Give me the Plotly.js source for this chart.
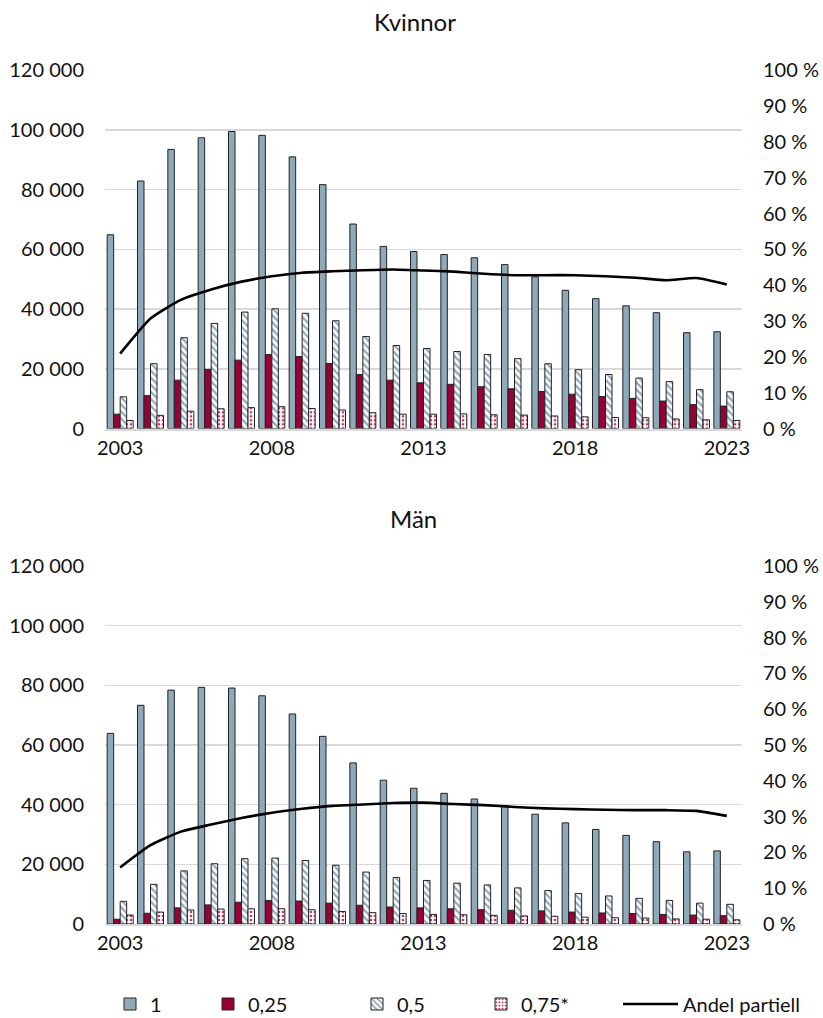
<!DOCTYPE html>
<html>
<head>
<meta charset="utf-8">
<script src="https://cdn.plot.ly/plotly-3.0.1.min.js"></script>
<style>html,body{margin:0;padding:0;background:#fff;}#chart{width:823px;height:1018px;}</style>
</head>
<body>
<div id="chart"></div>
<script>
const years = [2003,2004,2005,2006,2007,2008,2009,2010,2011,2012,2013,2014,2015,2016,2017,2018,2019,2020,2021,2022,2023];

const seriesNames = ["1", "0,25", "0,5", "0,75*", "Andel partiell"];

// Kvinnor
const kv_1    = [64900,82900,93500,97400,99500,98200,91000,81700,68500,61000,59300,58300,57200,54900,50800,46300,43500,41100,38800,32100,32400];
const kv_025  = [4800,11000,16200,19800,22900,24800,24100,21800,18100,16200,15300,14800,14000,13300,12400,11500,10700,10100,9200,8000,7500];
const kv_05   = [10600,21700,30400,35200,39000,40100,38600,36100,30800,27800,26800,25800,24800,23400,21700,19700,18100,16900,15700,13000,12300];
const kv_075  = [2700,4400,5800,6600,7000,7300,6700,6200,5300,4800,4800,4900,4600,4500,4200,3900,3700,3600,3200,2900,2700];
const kv_andel = [20.9,30.7,35.9,38.8,41.0,42.5,43.5,43.9,44.2,44.4,44.1,43.8,43.2,42.8,42.8,42.8,42.5,42.1,41.4,42.0,40.2];

// Män
const man_1   = [63900,73300,78400,79300,79100,76500,70400,62900,54000,48200,45500,43800,41900,39500,36800,33900,31700,29700,27600,24200,24500];
const man_025 = [1600,3600,5400,6400,7300,7900,7700,7000,6300,5700,5400,5100,4800,4600,4400,4000,3700,3500,3200,3000,2800];
const man_05  = [7600,13300,17800,20200,21900,22100,21300,19700,17400,15600,14600,13700,13100,12100,11200,10200,9400,8600,7900,7000,6600];
const man_075 = [3000,4000,4700,5000,5100,5100,4800,4200,3800,3500,3200,3100,2900,2700,2600,2300,2100,2000,1700,1600,1400];
const man_andel = [15.8,22.0,25.8,27.8,29.6,31.1,32.2,33.0,33.4,33.8,33.9,33.5,33.2,32.7,32.3,32.1,31.9,31.8,31.8,31.6,30.2];

const titles = ["Kvinnor", "Män"];

const BLUE = "#8EA9BA";
const RED = "#990033";
const PINK = "#C23A62";
const OUT = {color: "#222222", width: 1};
const legendIds = ["legend", "legend2", "legend3", "legend4", "legend5"];

function barTraces(vals, xa, ya, show) {
  const styles = [
    {color: BLUE, line: OUT},
    {color: RED, line: OUT},
    {color: "#ffffff", line: OUT, pattern: {shape: "\\", fgcolor: BLUE, bgcolor: "#ffffff", size: 5, solidity: 0.45}},
    {color: "#ffffff", line: OUT, pattern: {shape: ".", fgcolor: PINK, bgcolor: "#ffffff", size: 4, solidity: 0.35}}
  ];
  return vals.map((v, i) => ({
    type: "bar", x: years, y: v, name: seriesNames[i], xaxis: xa, yaxis: ya,
    marker: styles[i], showlegend: show, legend: legendIds[i], legendgroup: seriesNames[i], hoverinfo: "skip"
  }));
}

const lineStyle = {color: "#000000", width: 2.6, shape: "spline", smoothing: 0.5};

const traces = [
  ...barTraces([kv_1, kv_025, kv_05, kv_075], "x", "y", true),
  {type: "scatter", mode: "lines", x: years, y: kv_andel, name: seriesNames[4], xaxis: "x", yaxis: "y2",
   line: lineStyle, showlegend: true, legend: legendIds[4], legendgroup: "andel", hoverinfo: "skip"},
  ...barTraces([man_1, man_025, man_05, man_075], "x2", "y3", false),
  {type: "scatter", mode: "lines", x: years, y: man_andel, name: seriesNames[4], xaxis: "x2", yaxis: "y4",
   line: lineStyle, showlegend: false, legendgroup: "andel", hoverinfo: "skip"}
];

const H = 1018, W = 823;
const fy = px => 1 - px / H;
const FAM = "Lato, 'Open Sans', sans-serif";
const tickFont = {family: FAM, size: 20, color: "#111111"};

const xax = anchor => ({
  anchor: anchor, range: [2002.5, 2023.5], tickmode: "linear", tick0: 2003, dtick: 5,
  showgrid: false, zeroline: false, showline: true, linecolor: "#D9D9D9", linewidth: 2,
  ticks: "", tickfont: tickFont, fixedrange: true, automargin: false
});
const yLeft = (domain, anchor) => ({
  domain: domain, anchor: anchor, range: [0, 120000], dtick: 20000, tick0: 0, tickformat: ",d",
  showgrid: true, gridcolor: "#D9D9D9", gridwidth: 1.5, zeroline: false, showline: false,
  ticks: "", tickfont: tickFont, ticklabelstandoff: 20, automargin: false
});
const yRight = (over, anchor) => ({
  overlaying: over, anchor: anchor, side: "right", range: [0, 100], dtick: 10, tick0: 0,
  ticksuffix: " %", showgrid: false, zeroline: false, showline: false,
  ticks: "", tickfont: tickFont, ticklabelstandoff: 20, automargin: false
});

const leg = (xpx, iw) => ({
  orientation: "h", xref: "container", yref: "container", x: xpx / W, xanchor: "left",
  y: fy(1004), yanchor: "middle", font: tickFont, itemwidth: iw, bgcolor: "rgba(0,0,0,0)"
});

const layout = {
  width: W, height: H,
  margin: {l: 105, r: 81, t: 0, b: 0, autoexpand: false},
  separators: ", ",
  paper_bgcolor: "#ffffff", plot_bgcolor: "#ffffff",
  barmode: "group", bargap: 0.143, bargroupgap: 0,
  font: tickFont,
  xaxis: xax("y"),
  yaxis: yLeft([fy(428.5), fy(70.3)], "x"),
  yaxis2: yRight("y", "x"),
  xaxis2: xax("y3"),
  yaxis3: yLeft([fy(924), fy(566)], "x2"),
  yaxis4: yRight("y3", "x2"),
  legend: leg(110, 30),
  legend2: leg(208, 30),
  legend3: leg(357, 30),
  legend4: leg(481, 30),
  legend5: leg(618, 55),
  annotations: [
    {text: titles[0], xref: "paper", yref: "paper", x: 0.487, y: fy(22), xanchor: "center", yanchor: "middle",
     showarrow: false, font: {family: FAM, size: 24, color: "#111111"}},
    {text: titles[1], xref: "paper", yref: "paper", x: 0.485, y: fy(518), xanchor: "center", yanchor: "middle",
     showarrow: false, font: {family: FAM, size: 24, color: "#111111"}}
  ]
};

Plotly.newPlot("chart", traces, layout, {displayModeBar: false, staticPlot: true});
</script>
</body>
</html>
